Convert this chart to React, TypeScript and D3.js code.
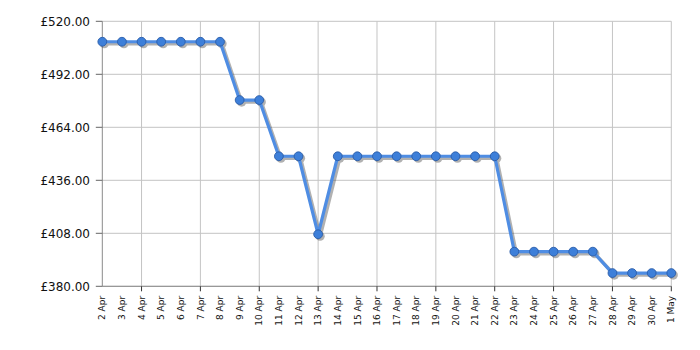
import React from "react";
import * as d3 from "d3";

const dates: string[] = [
  "2 Apr", "3 Apr", "4 Apr", "5 Apr", "6 Apr", "7 Apr", "8 Apr", "9 Apr", "10 Apr", "11 Apr",
  "12 Apr", "13 Apr", "14 Apr", "15 Apr", "16 Apr", "17 Apr", "18 Apr", "19 Apr", "20 Apr", "21 Apr",
  "22 Apr", "23 Apr", "24 Apr", "25 Apr", "26 Apr", "27 Apr", "28 Apr", "29 Apr", "30 Apr", "1 May",
];

const prices: number[] = [
  509.2, 509.2, 509.2, 509.2, 509.2, 509.2, 509.2, 478.4, 478.4, 448.7,
  448.7, 407.5, 448.7, 448.7, 448.7, 448.7, 448.7, 448.7, 448.7, 448.7,
  448.7, 398.3, 398.3, 398.3, 398.3, 398.3, 387.0, 387.0, 387.0, 387.0,
];

const yTicks: number[] = [380, 408, 436, 464, 492, 520];

const W = 700;
const H = 350;
const left = 102.3;
const right = 671.3;
const top = 21.3;
const bottom = 286.3;

export default function App() {
  const x = d3.scalePoint<string>().domain(dates).range([left, right]);
  const y = d3.scaleLinear().domain([380, 520]).range([bottom, top]);
  const data = dates.map((d, i) => ({ d, v: prices[i] }));
  const line = d3
    .line<{ d: string; v: number }>()
    .x((p) => x(p.d) as number)
    .y((p) => y(p.v));
  const path = line(data) || "";
  const majorDates = dates.filter((_, i) => i % 3 === 2);
  const font = "'DejaVu Sans', Verdana, sans-serif";

  return (
    <svg
      width={W}
      height={H}
      style={{ position: "absolute", left: 0, top: 0, background: "#fff" }}
      fontFamily={font}
    >
      {/* horizontal grid */}
      {yTicks.map((t) => (
        <line key={"hg" + t} x1={left} x2={right} y1={y(t)} y2={y(t)} stroke="#c4c4c4" strokeWidth={1} />
      ))}
      {/* vertical grid */}
      {majorDates.map((d) => (
        <line key={"vg" + d} x1={x(d)} x2={x(d)} y1={top} y2={bottom} stroke="#c4c4c4" strokeWidth={1} />
      ))}
      {/* axes */}
      <line x1={left} x2={left} y1={top} y2={bottom} stroke="#8a8a8a" strokeWidth={1} />
      <line x1={left} x2={right} y1={bottom} y2={bottom} stroke="#8a8a8a" strokeWidth={1} />
      {/* y ticks and labels */}
      {yTicks.map((t) => (
        <g key={"yt" + t}>
          <line x1={left - 6.5} x2={left} y1={y(t)} y2={y(t)} stroke="#666" strokeWidth={1} />
          <text x={90} y={y(t)} dy="0.36em" textAnchor="end" fontSize={12} fill="#111">
            {"£" + t.toFixed(2)}
          </text>
        </g>
      ))}
      {/* x ticks */}
      {majorDates.map((d) => (
        <line key={"xt" + d} x1={x(d)} x2={x(d)} y1={bottom} y2={bottom + 5} stroke="#333" strokeWidth={1} />
      ))}
      {dates.map((d) => (
        <text
          key={"xl" + d}
          transform={`translate(${x(d)},${bottom + 9.5}) rotate(-90)`}
          dy="0.35em"
          textAnchor="end"
          fontSize={9}
          fill="#111"
        >
          {d}
        </text>
      ))}
      {/* shadow */}
      <g transform="translate(2,2)" opacity={0.45}>
        <path d={path} fill="none" stroke="#555" strokeWidth={3.5} strokeLinejoin="round" />
        {data.map((p) => (
          <circle key={"sc" + p.d} cx={x(p.d)} cy={y(p.v)} r={4.6} fill="#555" />
        ))}
      </g>
      {/* line */}
      <path d={path} fill="none" stroke="#4f8de3" strokeWidth={3.2} strokeLinejoin="round" />
      {data.map((p) => (
        <circle
          key={"c" + p.d}
          cx={x(p.d)}
          cy={y(p.v)}
          r={4.4}
          fill="#3d7fd9"
          stroke="#2a5ca8"
          strokeWidth={0.9}
        />
      ))}
    </svg>
  );
}
